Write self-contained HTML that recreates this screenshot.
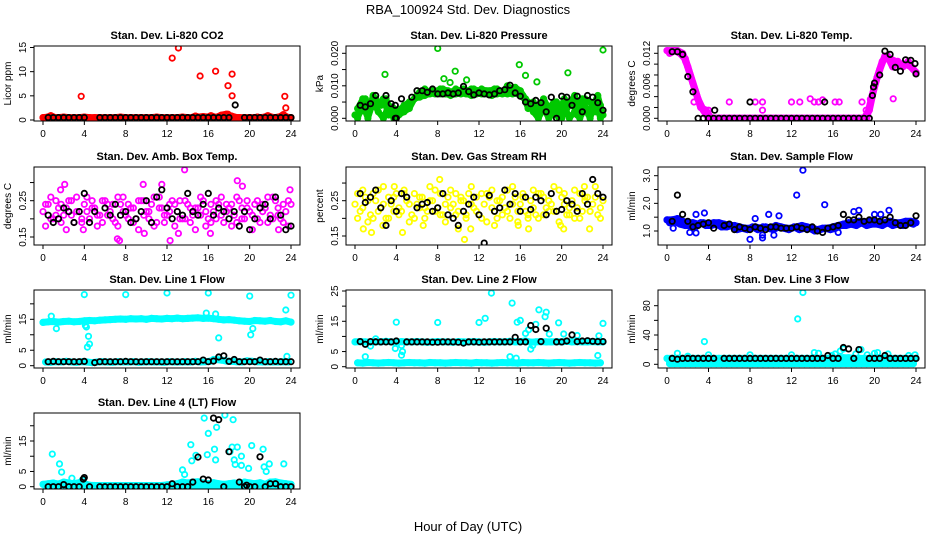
<!DOCTYPE html>
<html><head><meta charset="utf-8">
<style>
html,body{margin:0;padding:0;background:#fff;}
svg{display:block;font-family:"Liberation Sans",Arial,sans-serif;}
</style></head>
<body>
<svg id="chart" width="936" height="540" viewBox="0 0 936 540" xmlns="http://www.w3.org/2000/svg">
<rect x="0" y="0" width="936" height="540" fill="#fff"/>
<text x="468" y="14" font-size="13" text-anchor="middle">RBA_100924  Std. Dev. Diagnostics</text>
<text x="468" y="531" font-size="13" text-anchor="middle">Hour of Day (UTC)</text>
</svg>
<script>
// ---- data: main/alt series at half-hour grid, outliers as [hour,value] ----
const p1Main=[0.5,0.6,0.5,0.5,0.6,0.5,0.5,0.5,0.6,0.5,0.5,0.5,0.5,0.5,0.5,0.6,0.5,0.5,0.5,0.5,0.5,0.5,0.6,0.5,0.5,0.5,0.5,0.6,0.5,0.5,0.6,0.7,0.6,0.5,0.6,0.5,0.8,0.5,0.5,0.5,0.5,0.5,0.5,0.6,0.6,0.5,0.7,0.6,0.5];
const p1Alt=[0.4,0.9,0.4,0.4,0.5,0.4,0.4,0.4,0.5,0.4,0.4,0.4,0.4,0.4,0.4,0.5,0.4,0.4,0.4,0.4,0.4,0.4,0.5,0.4,0.4,0.4,0.4,0.5,0.4,0.8,0.5,0.4,0.9,0.5,1.0,1.2,0.8,0.5,0.4,0.4,0.4,0.6,0.4,0.9,0.5,0.4,1.1,0.4];
const p1Out=[[3.7,4.9],[12.5,12.8],[13.1,14.9],[15.2,9.1],[16.7,10.1],[17.9,7.1],[18.3,9.5],[18.3,5],[23.4,4.9],[23.5,2.5],[17.9,1.2]];
const p1Blk=[0.5,0.5,0.5,0.5,0.5,0.5,0.5,0.5,null,null,0.5,0.5,0.5,0.5,0.5,0.5,0.5,0.5,0.5,0.5,0.5,0.5,0.5,0.5,0.5,0.5,0.5,0.5,0.5,0.5,0.5,0.5,0.5,0.5,0.5,0.5,null,null,0.5,0.5,0.5,0.5,0.5,0.5,0.5,0.5,0.5,0.5];
const p1BlkOut=[[18.6,3.1]];

const p2Main=[0.001,0.002,0.006,0.003,0.006,0.004,0.006,0.002,0.000,0.003,0.004,0.005,0.007,0.0075,0.008,0.0085,0.0085,0.009,0.0085,0.008,0.0085,0.009,0.0085,0.009,0.0085,0.008,0.0085,0.009,0.0085,0.0085,0.009,0.0095,0.0085,0.006,0.004,0.003,0.002,0.004,0.001,0.005,0.000,0.003,0.005,0.001,0.006,0.002,0.004,0.007,0.001];
const p2Alt=[0.000,0.004,0.000,0.005,0.002,0.000,0.004,0.000,0.001,0.002,0.003,0.006,0.0065,0.007,0.0075,0.0075,0.0075,0.0075,0.007,0.0075,0.0075,0.0075,0.007,0.0075,0.0075,0.0075,0.007,0.0075,0.0075,0.0075,0.0075,0.0075,0.0065,0.005,0.002,0.000,0.003,0.000,0.002,0.000,0.004,0.000,0.002,0.000,0.003,0.000,0.005,0.000];
const p2Alt2=[0.003,0.006,0.002,0.007,0.004,0.006,0.001,0.003,0.002,0.004,0.005,0.006,0.008,0.009,0.008,0.008,0.009,0.008,0.008,0.009,0.0085,0.008,0.009,0.008,0.009,0.0085,0.008,0.009,0.008,0.01,0.009,0.008,0.007,0.003,0.005,0.002,0.006,0.003,0.005,0.002,0.006,0.004,0.007,0.003,0.006,0.005,0.002,0.004];
const p2Out=[[2.9,0.0135],[8,0.0215],[8.6,0.0122],[9.7,0.0145],[10.8,0.0118],[15.9,0.0165],[16.5,0.0132],[17.6,0.0112],[20.6,0.014],[24,0.021],[9.2,0.011]];
const p2Blk=[0.004,0.0035,0.0045,0.007,null,0.007,0.0045,0.000,0.006,null,0.0065,0.0085,0.0085,0.008,0.009,0.0075,0.0075,0.0078,0.0075,0.0078,0.0098,0.0082,0.0072,0.0078,0.0075,0.0072,0.0075,0.0085,0.0088,0.0102,0.0078,0.0068,0.005,0.0045,0.0055,0.0048,0.002,0.0065,0.000,0.0068,0.0065,0.004,0.0068,0.002,0.007,0.0065,0.0048,0.0025];
const p2BlkOut=[[3.9,0.0],[3.9,0.004]];

const p3Main=[0.0125,0.0125,0.0125,0.012,0.0095,0.0065,0.0035,0.0015,0,0,0,0,0,0,0,0,0,0,0,0,0,0,0,0,0,0,0,0,0,0,0,0,0,0,0,0,0,0,0,0.0015,0.006,0.009,0.0115,0.011,0.0105,0.0100,0.0100,0.0095,0.0085];
const p3Alt=[0.012,0.0125,0.012,0.011,0.008,0.005,0.002,0.0015,0,0,0,0,0,0,0,0,0,0,0,0,0,0,0,0,0,0,0,0,0,0,0,0,0,0,0,0,0,0,0,0.004,0.0075,0.0105,0.0115,0.0095,0.0105,0.0095,0.0105,0.009];
const p3Out=[[6,0.003],[8.5,0.003],[9.2,0.003],[12,0.003],[12.8,0.003],[13.8,0.0036],[14.2,0.003],[14.6,0.003],[15,0.0034],[16.2,0.003],[16.6,0.003],[18.8,0.003],[9.2,0.0015],[21.8,0.0036],[3.6,0.0015],[4,0.0015],[19.2,0.0015],[19.6,0.0035],[2.6,0.003],[1.8,0.0105]];
const p3Blk=[0.0123,0.0123,0.0118,0.0077,0.0049,0,0,0,0,0,0,0,0,0,0,0,0,0,0,0,0,0,0,0,0,0,0,0,0,0,0,0,0,0,0,0,0,0,0,0.0065,0.008,0.0124,0.0118,0.0094,0.0087,0.0108,0.0107,0.0082];
const p3BlkOut=[[4.6,0.0015],[8,0.003],[15.2,0.003],[19.8,0.0042],[19.9,0.0058],[23.9,0.0101]];

const p4Main=[0.22,0.24,0.2,0.23,0.21,0.25,0.19,0.22,0.24,0.2,0.23,0.21,0.25,0.22,0.19,0.24,0.21,0.23,0.2,0.25,0.22,0.24,0.19,0.23,0.21,0.25,0.22,0.2,0.24,0.21,0.23,0.25,0.2,0.22,0.24,0.19,0.23,0.21,0.25,0.2,0.22,0.24,0.19,0.23,0.21,0.25,0.2,0.22,0.24];
const p4Alt=[0.18,0.26,0.21,0.24,0.17,0.25,0.22,0.19,0.26,0.23,0.18,0.25,0.21,0.24,0.18,0.26,0.2,0.23,0.17,0.25,0.22,0.18,0.26,0.21,0.24,0.18,0.25,0.2,0.23,0.17,0.26,0.22,0.19,0.25,0.21,0.24,0.18,0.26,0.2,0.23,0.17,0.25,0.22,0.19,0.26,0.21,0.24,0.18];
const p4Alt2=[0.24,0.2,0.25,0.19,0.23,0.21,0.26,0.2,0.22,0.25,0.21,0.19,0.24,0.2,0.26,0.22,0.24,0.19,0.25,0.21,0.2,0.26,0.23,0.19,0.22,0.24,0.2,0.25,0.19,0.23,0.21,0.18,0.24,0.2,0.26,0.22,0.24,0.19,0.23,0.25,0.21,0.2,0.24,0.26,0.2,0.23,0.19,0.25];
const p4Out=[[2.1,0.295],[1.7,0.28],[9.7,0.295],[11.5,0.295],[13.7,0.335],[18.8,0.305],[19.3,0.29],[23.9,0.28],[7.2,0.145],[7.4,0.14],[12.3,0.14],[13.1,0.16],[16.2,0.16],[9.8,0.16],[22.8,0.17],[3.9,0.17]];
const p4Blk=[0.21,0.19,0.2,0.23,0.22,0.19,0.22,0.27,0.19,0.22,null,0.23,0.21,0.24,0.21,0.22,0.19,0.2,0.22,0.25,0.19,0.26,0.28,0.23,0.2,0.22,0.21,0.27,0.22,0.21,0.24,0.27,0.21,0.23,0.22,0.2,0.22,0.18,0.22,0.17,0.2,0.23,0.24,0.2,0.26,0.21,0.17,0.18];
const p4BlkOut=[];

const p5Main=[0.24,0.22,0.26,0.21,0.25,0.23,0.2,0.24,0.27,0.22,0.25,0.21,0.24,0.26,0.22,0.25,0.23,0.21,0.26,0.24,0.22,0.25,0.27,0.23,0.21,0.24,0.26,0.22,0.25,0.23,0.2,0.26,0.24,0.22,0.25,0.21,0.27,0.23,0.24,0.22,0.26,0.21,0.25,0.23,0.22,0.26,0.24,0.21,0.25];
const p5Alt=[0.2,0.28,0.19,0.27,0.22,0.29,0.2,0.26,0.21,0.28,0.19,0.27,0.23,0.2,0.29,0.22,0.27,0.19,0.28,0.21,0.26,0.2,0.29,0.22,0.27,0.19,0.28,0.2,0.26,0.22,0.29,0.19,0.27,0.21,0.28,0.2,0.26,0.22,0.29,0.19,0.27,0.21,0.28,0.2,0.26,0.22,0.29,0.2];
const p5Alt2=[0.27,0.23,0.25,0.2,0.28,0.24,0.26,0.22,0.23,0.27,0.24,0.2,0.26,0.23,0.25,0.28,0.21,0.24,0.23,0.27,0.25,0.21,0.24,0.26,0.2,0.27,0.23,0.25,0.21,0.28,0.24,0.22,0.26,0.2,0.23,0.27,0.21,0.25,0.22,0.28,0.24,0.23,0.2,0.27,0.25,0.22,0.26,0.23];
const p5Out=[[0.8,0.17],[1.6,0.16],[2.7,0.18],[4.6,0.16],[6.6,0.18],[8.2,0.31],[10,0.17],[10.6,0.14],[11.2,0.17],[13.5,0.18],[15.8,0.18],[16.8,0.17],[19.9,0.18],[20.2,0.17],[22.7,0.17],[3.8,0.29],[22.2,0.29]];
const p5Blk=[0.27,0.245,0.26,0.28,0.23,0.18,0.25,0.22,0.27,0.26,null,0.23,0.24,0.245,0.22,0.23,0.27,0.21,0.2,0.18,0.22,0.24,0.26,0.21,0.13,0.265,0.22,0.23,0.28,0.24,0.27,0.22,0.26,0.225,0.26,0.25,0.21,0.27,0.22,0.225,0.25,0.24,0.22,0.27,0.24,0.31,0.27,0.26];
const p5BlkOut=[];

const p6Main=[1.4,1.4,1.45,1.35,1.3,1.3,1.25,1.3,1.25,1.3,1.3,1.25,1.2,1.2,1.15,1.1,1.1,1.15,1.1,1.15,1.1,1.2,1.15,1.1,1.1,1.15,1.2,1.15,1.1,1.05,1.1,1.1,1.15,1.2,1.25,1.3,1.3,1.35,1.3,1.35,1.35,1.3,1.3,1.35,1.3,1.3,1.35,1.35,1.3];
const p6Alt=[1.3,1.35,1.25,1.2,1.2,1.15,1.3,1.2,1.2,1.25,1.15,1.15,1.2,1.05,1.1,1.05,1.15,1.05,1.15,1.1,1.05,1.15,1.1,1.05,1.15,1.05,1.1,1.1,1.0,1.05,1.1,1.05,1.1,1.2,1.2,1.25,1.2,1.3,1.2,1.25,1.25,1.2,1.3,1.2,1.25,1.2,1.3,1.25];
const p6Out=[[13.1,3.2],[12.5,2.3],[15.2,1.95],[18.5,1.75],[21.4,1.75],[18,1.7],[3.6,1.65],[9.8,1.6],[10.8,1.55],[20,1.6],[8,0.7],[9.2,0.75],[9.2,0.85],[10.3,0.85],[2.2,0.95],[2.8,0.93],[8.5,1.45],[2.8,1.6],[20.6,1.6],[0.6,1.1],[16.5,0.95]];
const p6Blk=[1.35,2.3,1.6,1.35,1.15,1.2,1.25,1.3,1.1,null,1.2,1.25,1.05,1.15,1.1,1.05,1.15,1.1,1.05,1.15,1.15,1.1,1.1,1.1,1.15,1.1,1.05,1.15,1.0,0.95,1.1,1.15,1.2,1.6,1.4,1.4,1.5,1.35,1.4,1.4,1.35,1.4,1.5,1.3,1.2,1.2,1.3,1.55];
const p6BlkOut=[];

const p7Main=[14,14.2,14.3,14.1,14.3,14.4,14.2,14.3,14.5,14.6,14.5,14.7,14.8,14.9,15,15.1,15,15.2,15.1,15.2,15,15.3,15.2,15.1,15.3,15.2,15.4,15.2,15.3,15.4,15.5,15.3,15.4,15.2,15,14.8,14.9,14.7,14.5,14.4,14.3,14.6,14.5,14.4,14.6,14.3,14.2,14.5,14.1];
const p7Alt=[1.2,1.1,1.3,1.2,1.4,1.2,1.1,1.3,1.2,1.0,1.2,1.3,1.2,1.1,1.3,1.2,1.2,1.3,1.1,1.2,1.3,1.2,1.2,1.1,1.3,1.2,1.2,1.3,1.2,1.4,1.2,1.3,1.5,2.0,1.8,1.5,1.4,1.3,1.2,1.6,1.4,1.3,1.2,1.3,1.2,1.2,1.3,1.2];
const p7Out=[[4,23],[8,23],[12,23.5],[16,23.5],[20,22.5],[24,22.8],[0.8,16],[16.7,16.7],[15.8,17],[1.3,12],[4.4,9.5],[4.5,7],[4.3,6],[17,9],[20.1,10],[20.3,12],[4.1,13],[23.5,18],[23.6,3],[16.5,2],[4.2,12.5]];
const p7Blk=[1.3,1.4,1.3,1.3,1.3,1.3,1.3,1.4,null,1.0,1.3,1.3,1.3,1.3,1.3,1.4,1.3,1.3,1.3,1.3,1.3,1.3,1.3,1.3,1.3,1.3,1.3,1.3,1.3,1.3,1.8,1.3,1.5,2.8,3.2,1.4,2.0,1.3,1.3,1.3,1.3,1.8,1.3,1.3,1.4,1.3,1.3,1.3];
const p7BlkOut=[];

const p8Main=[8.2,8.3,8.2,8.1,8.3,8.2,8.4,8.2,8.1,8.3,8.2,8.2,8.3,8.2,8.1,8.2,8.3,8.2,8.2,8.1,8.3,8.2,8.2,8.3,8.2,8.1,8.2,8.3,8.2,8.2,8.4,8.2,8.3,8.5,8.1,8.2,8.3,8.2,8.2,8.3,8.2,8.4,8.2,8.3,8.2,8.2,8.3,8.2,8.2];
const p8Alt=[1.3,1.2,1.4,1.3,1.2,1.3,1.4,1.3,1.2,1.3,1.4,1.3,1.3,1.2,1.4,1.3,1.3,1.2,1.3,1.4,1.3,1.3,1.2,1.4,1.3,1.3,1.2,1.3,1.4,1.3,1.3,1.2,1.4,1.3,1.3,1.4,1.3,1.2,1.3,1.4,1.3,1.2,1.3,1.4,1.3,1.3,1.2,1.3];
const p8Out=[[1,3.3],[1.5,6.8],[2,9.2],[4,14.7],[3.9,6],[4.5,3.8],[4.6,5],[4.5,7],[8,14.6],[12,14.6],[12.6,16],[13.2,24.3],[15.2,21],[15.7,14.7],[16,15.3],[16.5,11],[16.8,12.2],[17,5.8],[17.2,7],[17.8,18.8],[18.5,18],[18.4,16.5],[18.8,10.8],[19.7,14.5],[20.2,10.8],[21.5,10.3],[23.5,3.7],[23.6,10.2],[24,14.3],[15,3.3],[15.6,2.8],[17.5,14]];
const p8Blk=[8.3,7.4,8.3,8.2,8.2,8.2,8.2,8.5,null,8.2,8.2,8.2,8.2,8.2,8.1,8.1,8.2,8.2,8.2,8.1,7.8,8.2,8.2,8.1,8.2,8.2,8.2,8.2,8.2,8.2,9.7,8.2,8.2,13.6,12.3,8.3,12.7,null,8.2,8.2,8.5,10.5,8.3,8.5,8.6,8.4,8.3,8.3];
const p8BlkOut=[];

const p9Main=[8,8,8,8,8,8,8,8,8,8,8,8,8,8,8,8,8,8,8,8,8,8,8,8,8,8,8,8,8,8,8,8,8,8,9,9,8,8,8,8,8,8,8,8,8,8,8,8,8];
const p9Alt=[4.5,4.5,4.5,4.5,4.5,4.5,4.5,4.5,4.5,4.5,4.5,4.5,4.5,4.5,4.5,4.5,4.5,4.5,4.5,4.5,4.5,4.5,4.5,4.5,4.5,4.5,4.5,4.5,4.5,4.5,4.5,4.5,4.5,4.5,4.5,4.5,4.5,4.5,4.5,4.5,4.5,4.5,4.5,4.5,4.5,4.5,4.5,4.5];
const p9Alt2=[1,1,1,1,1,1,1,1,1,1,1,1,1,1,1,1,1,1,1,1,1,1,1,1,1,1,1,1,1,1,1,1,1,1,1,1,1,1,1,1,1,1,1,1,1,1,1,1];
const p9Out=[[13.1,98],[12.6,62],[3.6,31],[4,13],[1,15],[2,11],[8,13],[12,13],[14.2,16],[14.6,15],[16.2,14],[16.7,18],[17,21],[18.2,14],[18.7,20],[19.3,13],[20,15],[20.3,16],[21.3,14],[23.3,12],[23.9,13],[15.9,12]];
const p9Blk=[8,7,8,8,8,8,8,8,8,null,8,8,8,8,8,8,8,8,8,8,8,8,8,8,8,8,8,8,8,8,12,8,8,23,21,8,20,null,8,8,8,12,8,8,8,8,8,8];
const p9BlkOut=[];

const p10Main=[0.8,1.0,1.2,0.9,1.5,1.2,1.0,1.3,1.0,0.5,0.4,0.4,0.4,0.4,0.4,0.4,0.4,0.4,0.4,0.4,0.4,0.4,0.4,0.4,0.6,0.8,1.0,1.5,1.2,1.5,1.6,1.2,1.0,1.3,1.0,0.8,1.0,1.2,0.8,1.5,1.2,1.0,1.3,0.8,1.5,1.6,1.2,1.0,0.8];
const p10Alt=[0.2,0.2,0.3,0.2,0.3,0.2,0.2,0.3,0.2,0.1,0.1,0.1,0.1,0.1,0.1,0.1,0.1,0.1,0.1,0.1,0.1,0.1,0.1,0.1,0.2,0.3,0.2,0.3,0.2,0.3,0.2,0.3,0.2,0.3,0.2,0.3,0.2,0.3,0.2,0.3,0.2,0.3,0.2,0.3,0.2,0.3,0.2,0.2];
const p10Out=[[0.9,10.7],[1.6,7.5],[1.8,4.8],[2.8,2.8],[3.8,2.2],[14.3,13.8],[14.4,8.5],[14.8,10.3],[13.5,5.5],[13.7,4],[15.6,22.5],[16,17.5],[16.6,12.3],[16.7,8.8],[16.8,19.5],[17.6,23.5],[18.1,11.5],[18.3,13],[18.5,8.8],[18.6,7.3],[18.8,13],[19.2,10],[19.2,7],[19.9,6],[20.2,13.5],[21.3,12.3],[21.4,6.5],[21.6,5],[21.9,7.5],[23.3,7.5],[15.9,10.5],[18.4,22]];
const p10Blk=[0,0,0,0.7,0,0,0,3,0,null,0,0,0,0,0,0,0,0,0,0,0,0,0,0,1,0,0,0,1.5,9.7,2.5,2.2,22.5,22,0,11.5,null,1.5,0,0,0,9.8,0,1,1,0,0,0];
const p10BlkOut=[[3.9,2.5],[19.7,0.5]];

// ---- layout ----
const cols=[{l:34,r:300},{l:346,r:612},{l:658,r:925}];
const rows=[{t:46,b:121},{t:167,b:245},{t:290,b:368},{t:413,b:489}];
const xTicks=[0,4,8,12,16,20,24];

const panels=[
 {id:'co2',title:'Stan. Dev. Li-820 CO2',ylab:'Licor ppm',c:0,r:0,col:'#ff0000',band:7,ym:[0,120,15,47.5],ticks:[0,5,10,15],labs:['0','5','10','15'],labAt:[0,5,10,15],main:p1Main,alt:p1Alt,alt2:null,out:p1Out,blk:p1Blk,blkOut:p1BlkOut},
 {id:'pressure',title:'Stan. Dev. Li-820 Pressure',ylab:'kPa',c:1,r:0,col:'#00c800',band:6,ym:[0,118.3,0.02,53.3],ticks:[0,0.005,0.01,0.015,0.02],labs:['0.000','0.010','0.020'],labAt:[0,0.01,0.02],main:p2Main,alt:p2Alt,alt2:p2Alt2,out:p2Out,blk:p2Blk,blkOut:p2BlkOut},
 {id:'temp',title:'Stan. Dev. Li-820 Temp.',ylab:'degrees C',c:2,r:0,col:'#ff00ff',band:7,ym:[0,118.3,0.012,53.3],ticks:[0,0.002,0.004,0.006,0.008,0.01,0.012],labs:['0.000','0.006','0.012'],labAt:[0,0.006,0.012],main:p3Main,alt:p3Alt,alt2:null,out:p3Out,blk:p3Blk,blkOut:p3BlkOut},
 {id:'amb-box-temp',title:'Stan. Dev. Amb. Box Temp.',ylab:'degrees C',c:0,r:1,col:'#ff00ff',band:0,ym:[0.15,237,0.25,200.7],ticks:[0.15,0.2,0.25,0.3],labs:['0.15','0.25'],labAt:[0.15,0.25],main:p4Main,alt:p4Alt,alt2:p4Alt2,out:p4Out,blk:p4Blk,blkOut:p4BlkOut},
 {id:'gas-rh',title:'Stan. Dev. Gas Stream RH',ylab:'percent',c:1,r:1,col:'#ffff00',band:0,ym:[0.15,236,0.25,200.7],ticks:[0.15,0.2,0.25,0.3],labs:['0.15','0.25'],labAt:[0.15,0.25],main:p5Main,alt:p5Alt,alt2:p5Alt2,out:p5Out,blk:p5Blk,blkOut:p5BlkOut},
 {id:'sample-flow',title:'Stan. Dev. Sample Flow',ylab:'ml/min',c:2,r:1,col:'#0000ff',band:7,ym:[1,231,3,175.7],ticks:[1,1.5,2,2.5,3],labs:['1.0','2.0','3.0'],labAt:[1,2,3],main:p6Main,alt:p6Alt,alt2:null,out:p6Out,blk:p6Blk,blkOut:p6BlkOut},
 {id:'line1',title:'Stan. Dev. Line 1 Flow',ylab:'ml/min',c:0,r:2,col:'#00ffff',band:7,ym:[0,365.7,15,319.3],ticks:[0,5,10,15,20],labs:['0','5','15'],labAt:[0,5,15],main:p7Main,alt:p7Alt,alt2:null,out:p7Out,blk:p7Blk,blkOut:p7BlkOut},
 {id:'line2',title:'Stan. Dev. Line 2 Flow',ylab:'ml/min',c:1,r:2,col:'#00ffff',band:7,ym:[0,366.7,25,291],ticks:[0,5,10,15,20,25],labs:['0','5','15','25'],labAt:[0,5,15,25],main:p8Main,alt:p8Alt,alt2:null,out:p8Out,blk:p8Blk,blkOut:p8BlkOut},
 {id:'line3',title:'Stan. Dev. Line 3 Flow',ylab:'ml/min',c:2,r:2,col:'#00ffff',band:7,ym:[0,364.3,80,305.7],ticks:[0,20,40,60,80],labs:['0','40','80'],labAt:[0,40,80],main:p9Main,alt:p9Alt,alt2:p9Alt2,out:p9Out,blk:p9Blk,blkOut:p9BlkOut},
 {id:'line4',title:'Stan. Dev. Line 4 (LT) Flow',ylab:'ml/min',c:0,r:3,col:'#00ffff',band:7,ym:[0,486.7,15,441],ticks:[0,5,10,15,20],labs:['0','5','15'],labAt:[0,5,15],main:p10Main,alt:p10Alt,alt2:null,out:p10Out,blk:p10Blk,blkOut:p10BlkOut}
];

const NS='http://www.w3.org/2000/svg';
const svg=document.getElementById('chart');
function mk(tag,attrs,parent){const e=document.createElementNS(NS,tag);for(const k in attrs)e.setAttribute(k,attrs[k]);(parent||svg).appendChild(e);return e;}

panels.forEach(p=>{
  const C=cols[p.c],R=rows[p.r];
  const x0=C.l+9,x1=C.r-9;
  const xs=h=>x0+(x1-x0)*h/24;
  const ys=v=>p.ym[1]+(v-p.ym[0])*(p.ym[3]-p.ym[1])/(p.ym[2]-p.ym[0]);
  const g=mk('g',{});
  
  
  const clip=mk('clipPath',{id:'clip-'+p.id},g);
  mk('rect',{x:C.l,y:R.t,width:C.r-C.l,height:R.b-R.t},clip);
  const pts=mk('g',{'clip-path':'url(#clip-'+p.id+')'},g);
  
  
  function band(arr,start){
    const d=arr.map((v,i)=>(i?'L':'M')+xs(start+i*0.5).toFixed(1)+','+ys(v).toFixed(1)).join('');
    const b=mk('path',{d:d,fill:'none',stroke:p.col,'stroke-width':p.band,'stroke-linejoin':'round','stroke-linecap':'round'},pts);
    
    
  }
  if(p.band){band(p.main,0);band(p.alt,0.25);if(p.alt2)band(p.alt2,0.25);}
  function dot(h,v,color,name){
    if(v===null||v===undefined)return;
    const c=mk('circle',{cx:xs(h).toFixed(1),cy:ys(v).toFixed(1),r:2.7,fill:'none',stroke:color,'stroke-width':1.8},pts);
    
    
  }
  p.main.forEach((v,i)=>dot(i*0.5,v,p.col,'point-main'));
  p.alt.forEach((v,i)=>dot(0.25+i*0.5,v,p.col,'point-alt'));
  if(p.alt2)p.alt2.forEach((v,i)=>dot(0.25+i*0.5,v,p.col,'point-alt'));
  p.out.forEach(o=>dot(o[0],o[1],p.col,'point-outlier'));
  p.blk.forEach((v,i)=>dot(0.5+i*0.5,v,'#000','point-hourly'));
  p.blkOut.forEach(o=>dot(o[0],o[1],'#000','point-hourly'));
  const box=mk('rect',{x:C.l,y:R.t,width:C.r-C.l,height:R.b-R.t,fill:'none',stroke:'#000','stroke-width':1},g);
  
  
  const t=mk('text',{x:(C.l+C.r)/2,y:R.t-7,'font-size':11,'font-weight':'bold','text-anchor':'middle'},g);
  t.textContent=p.title;
  
  
  xTicks.forEach(h=>{
    mk('line',{x1:xs(h),x2:xs(h),y1:R.b,y2:R.b+4,stroke:'#000'},g);
    const l=mk('text',{x:xs(h),y:R.b+16,'font-size':10,'text-anchor':'middle'},g);
    l.textContent=h;
    
    
  });
  mk('line',{x1:C.l,x2:C.l,y1:ys(p.ticks[0]),y2:ys(p.ticks[p.ticks.length-1]),stroke:'#000'},g);
  p.ticks.forEach(v=>mk('line',{x1:C.l-4,x2:C.l,y1:ys(v),y2:ys(v),stroke:'#000'},g));
  p.labs.forEach((s,i)=>{
    const y=ys(p.labAt[i]);
    const l=mk('text',{x:C.l-8,y:y,'font-size':10,'text-anchor':'middle',transform:'rotate(-90 '+(C.l-8)+' '+y+')'},g);
    l.textContent=s;
    
    
  });
  const yl=(R.t+R.b)/2, xl=C.l-23;
  const yt=mk('text',{x:xl,y:yl,'font-size':10,'text-anchor':'middle',transform:'rotate(-90 '+xl+' '+yl+')'},g);
  yt.textContent=p.ylab;
  
  
});
</script>
</body></html>
